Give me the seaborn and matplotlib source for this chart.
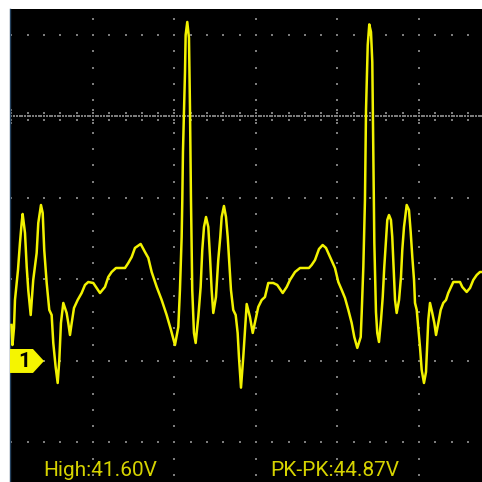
import numpy as np
import pandas as pd
import matplotlib
matplotlib.use("Agg")
import matplotlib.pyplot as plt
from matplotlib.patches import Polygon
import seaborn as sns

# Channel 1 capture: time in ms (10 ms/div), voltage in V (10 V/div)
time_ms = [
    0.00, 0.12, 0.31, 0.43, 0.80, 1.04, 1.25, 1.37, 1.66, 1.87,
    2.06, 2.36, 2.67, 3.09, 3.29, 3.62, 3.83, 4.02, 4.32, 4.64,
    4.93, 5.13, 5.42, 5.67, 5.87, 6.07, 6.36, 6.77, 6.97, 7.18,
    7.39, 7.67, 8.12, 8.61, 9.02, 9.42, 10.04, 10.86, 11.47, 11.88,
    12.29, 12.82, 13.93, 14.33, 14.75, 15.15, 15.85, 16.38, 16.79, 17.20,
    17.82, 18.43, 19.04, 19.57, 20.06, 20.47, 20.67, 20.88, 20.96, 21.04,
    21.17, 21.29, 21.37, 21.57, 21.78, 21.90, 22.02, 22.18, 22.39, 22.60,
    22.92, 23.21, 23.41, 23.62, 23.87, 24.15, 24.36, 24.56, 24.76, 25.09,
    25.37, 25.62, 25.79, 26.07, 26.32, 26.53, 26.72, 26.93, 27.21, 27.51,
    27.75, 27.91, 28.16, 28.44, 28.65, 28.86, 29.26, 29.60, 30.00, 30.28,
    30.70, 31.10, 31.51, 32.12, 32.61, 33.28, 33.77, 34.17, 34.79, 35.40,
    36.50, 36.83, 37.24, 37.73, 38.18, 38.59, 39.08, 39.69, 40.10, 40.52,
    40.92, 41.33, 41.74, 42.06, 42.43, 42.85, 42.97, 43.17, 43.37, 43.50,
    43.71, 43.90, 44.11, 44.27, 44.39, 44.52, 44.72, 44.88, 45.09, 45.34,
    45.55, 45.74, 45.95, 46.11, 46.32, 46.56, 46.72, 46.90, 47.06, 47.26,
    47.55, 47.79, 47.95, 48.16, 48.49, 48.77, 48.98, 49.18, 49.39, 49.51,
    49.72, 49.91, 50.12, 50.33, 50.61, 50.86, 51.02, 51.14, 51.35, 51.63,
    51.88, 52.09, 52.37, 52.66, 52.98, 53.31, 53.59, 53.93, 54.21, 55.03,
    55.31, 55.85, 56.26, 56.66, 57.08, 57.48, 57.73,
]
volts = [
    4.42, 1.96, 4.05, 7.48, 11.17, 14.48, 16.93, 18.04, 15.71, 11.53,
    8.71, 5.64, 9.94, 13.25, 16.93, 19.14, 18.16, 13.62, 9.57, 6.26,
    5.64, 2.21, -0.74, -2.70, 0.12, 4.66, 7.12, 5.89, 4.66, 3.19,
    4.66, 6.50, 7.48, 8.34, 9.33, 9.69, 9.57, 8.34, 9.08, 10.31,
    10.92, 11.41, 11.41, 12.02, 12.76, 13.87, 14.36, 13.37, 12.64, 10.92,
    9.08, 7.48, 5.64, 3.80, 1.96, 4.17, 8.71, 15.21, 19.75, 25.64,
    30.80, 35.46, 40.00, 41.60, 39.63, 31.17, 20.12, 8.71, 3.44, 2.21,
    5.40, 9.08, 13.62, 16.44, 17.67, 16.44, 12.76, 8.71, 5.89, 7.85,
    12.39, 15.21, 17.67, 19.02, 17.67, 15.21, 12.02, 8.71, 6.26, 5.64,
    3.44, 0.49, -3.27, 0.49, 3.80, 6.99, 5.40, 3.44, 5.28, 6.63,
    7.48, 7.85, 9.57, 9.57, 9.33, 8.34, 9.08, 9.94, 10.92, 11.41,
    11.41, 11.78, 12.39, 13.74, 14.23, 13.87, 12.76, 11.41, 9.69, 8.71,
    7.73, 6.26, 4.66, 2.94, 1.60, 2.94, 5.89, 11.53, 19.75, 30.80,
    38.77, 41.30, 40.37, 36.69, 26.50, 14.48, 6.01, 3.44, 2.33, 5.03,
    7.85, 11.53, 14.85, 17.30, 17.91, 17.30, 15.21, 11.17, 7.48, 5.89,
    7.48, 10.31, 13.62, 16.44, 19.14, 18.53, 15.83, 12.76, 9.94, 7.12,
    6.26, 4.17, 1.72, -1.10, -2.70, -1.35, 2.21, 5.03, 7.12, 5.89,
    4.66, 3.19, 4.66, 6.26, 7.12, 7.48, 8.34, 9.08, 9.69, 9.69,
    9.08, 8.47, 8.96, 9.94, 10.55, 10.92, 10.92,
]

MS_PER_DIV = 10
V_PER_DIV = 10
TRIGGER_LEVEL = 30
MINOR_STEPS = 5

trace = pd.DataFrame({"t": time_ms, "v": volts})
v_high = trace["v"].max()
v_pkpk = v_high - trace["v"].min()

TRACE_COLOR = "#f2f200"
TEXT_COLOR = "#d6d300"
GRID_COLOR = "#7c7c7c"

fig = plt.figure(figsize=(4.82, 4.82), dpi=100, facecolor="white")
ax = fig.add_axes([10 / 482, 0, 472 / 482, 473 / 482])
ax.set_facecolor("black")
x_lo, x_hi = -0.18, 57.73
y_lo, y_hi = -14.85, 43.19
ax.set_xlim(x_lo, x_hi)
ax.set_ylim(y_lo, y_hi)

minor_t = MS_PER_DIV / MINOR_STEPS
minor_v = V_PER_DIV / MINOR_STEPS
dot_kw = dict(marker="s", s=1.7, color=GRID_COLOR, linewidths=0, zorder=1)

# dotted graticule: vertical division lines
for gx in np.arange(MS_PER_DIV, x_hi, MS_PER_DIV):
    ys = np.arange(-14, y_hi, minor_v)
    ax.scatter(np.full_like(ys, gx), ys, **dot_kw)
# horizontal division lines
for gy in np.arange(-V_PER_DIV, y_hi, V_PER_DIV):
    if gy == TRIGGER_LEVEL:
        continue
    xs = np.arange(0, x_hi, minor_t)
    ax.scatter(xs, np.full_like(xs, gy), **dot_kw)

# trigger level: dense dotted line with tick marks
xs = np.arange(0, x_hi, minor_t / 6)
ax.scatter(xs, np.full_like(xs, TRIGGER_LEVEL), **dot_kw)
for tx in np.arange(0, x_hi, minor_t):
    offs = [-0.4, 0.4]
    if abs(tx / MS_PER_DIV - round(tx / MS_PER_DIV)) < 1e-6:
        offs += [-0.8, 0.8]
    ax.scatter([tx] * len(offs), [TRIGGER_LEVEL + o for o in offs], **dot_kw)

# waveform
sns.lineplot(data=trace, x="t", y="v", ax=ax, color=TRACE_COLOR,
             linewidth=1.8, sort=False, estimator=None, zorder=3)

# channel 1 ground marker
marker = Polygon([(x_lo, 1.47), (2.64, 1.47), (3.99, 0.0), (2.64, -1.47), (x_lo, -1.47)],
                 closed=True, facecolor="#f5f500", edgecolor="none", zorder=4)
ax.add_patch(marker)
ax.text(1.55, -0.05, "1", color="black", fontsize=15, fontweight="bold",
        family="Roboto", ha="center", va="center", zorder=5)

# measurements
ax.text(3.85, -14.1, f"High:{v_high:.2f}V", color=TEXT_COLOR, fontsize=15,
        family="Roboto", ha="left", va="baseline", zorder=5)
ax.text(31.8, -14.1, f"PK-PK:{v_pkpk:.2f}V", color=TEXT_COLOR, fontsize=15,
        family="Roboto", ha="left", va="baseline", zorder=5)

ax.set_xlabel("")
ax.set_ylabel("")
ax.set_xticks([])
ax.set_yticks([])
for side in ("top", "right", "bottom"):
    ax.spines[side].set_visible(False)
ax.spines["left"].set_color("#24425f")
ax.spines["left"].set_linewidth(1.0)

fig.savefig("out.png", dpi=100, facecolor="white")
